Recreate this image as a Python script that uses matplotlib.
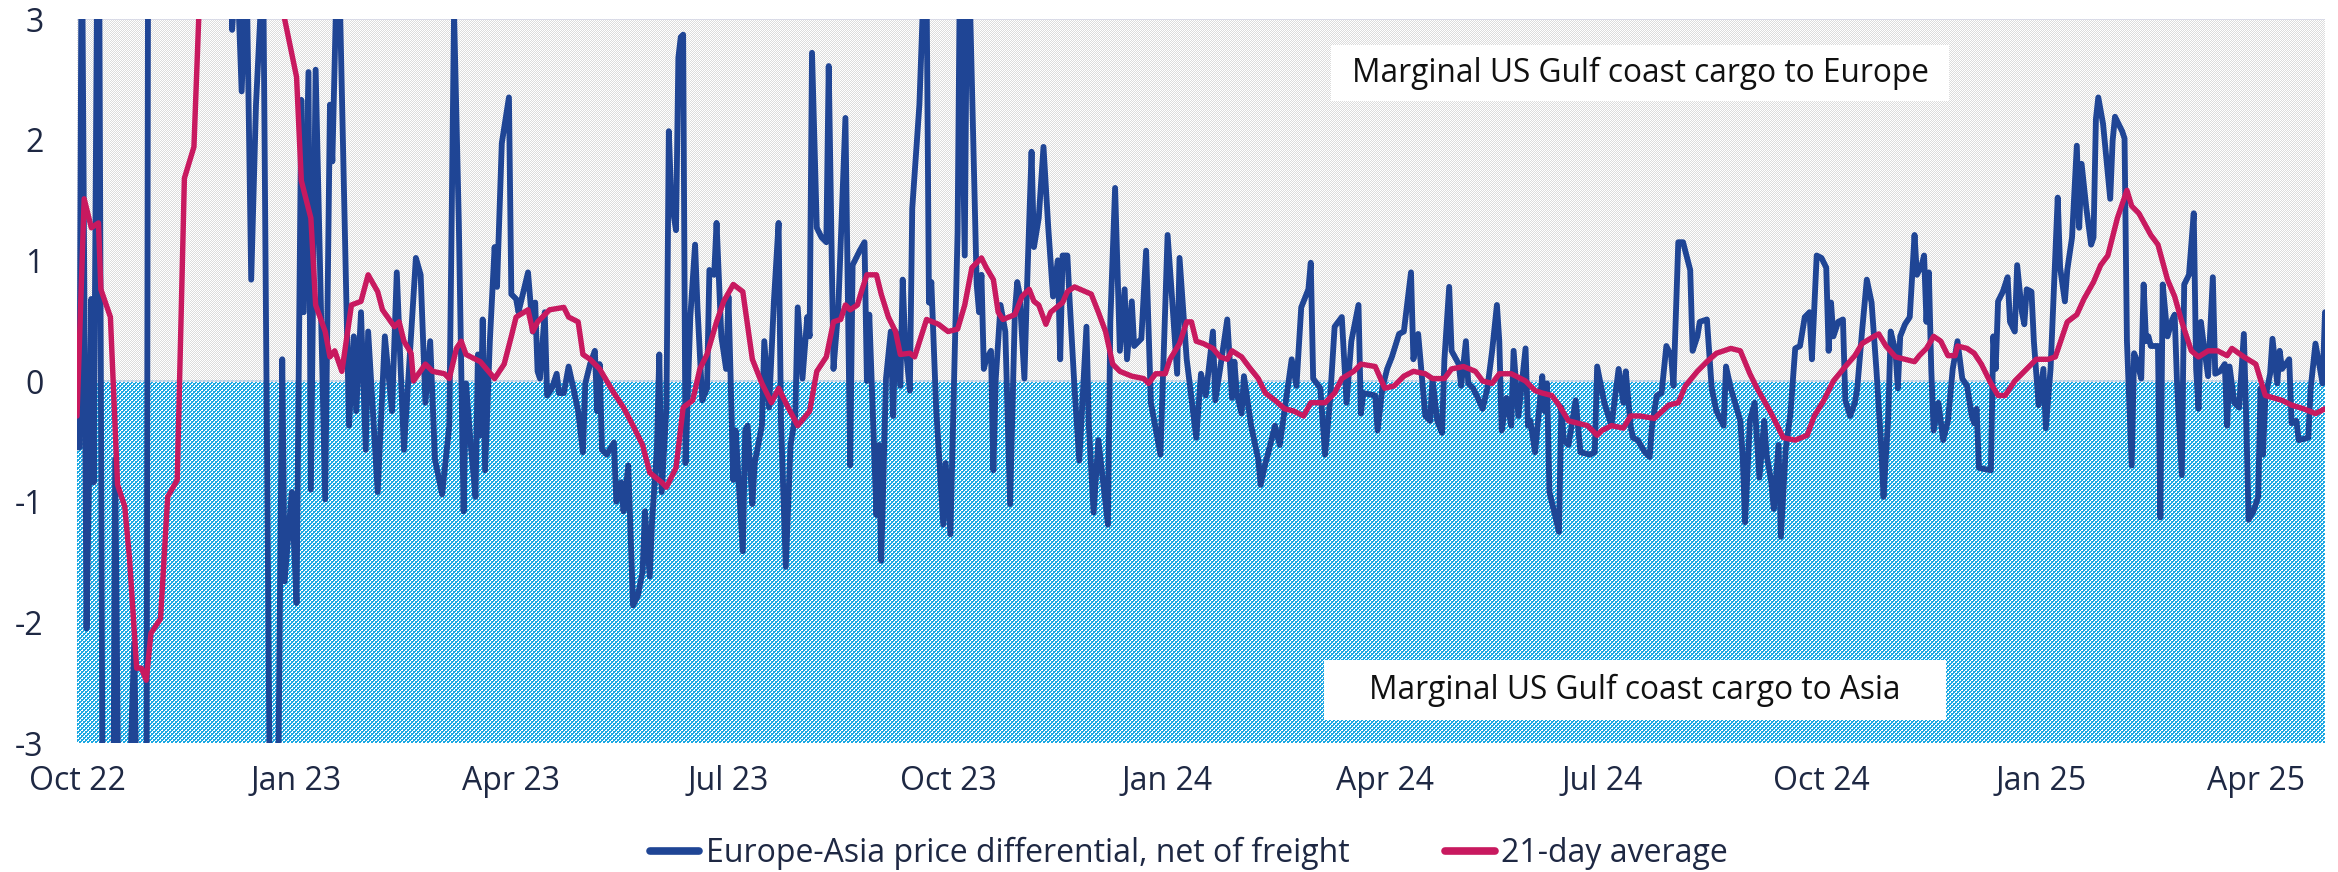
import numpy as np
import pandas as pd
import matplotlib
matplotlib.use("Agg")
import matplotlib.pyplot as plt
import matplotlib.dates as mdates
from matplotlib.colors import to_rgb
from matplotlib.patches import Rectangle

plt.rcParams['font.family'] = ['Open Sans', 'DejaVu Sans']

# ---------------- data ----------------
start_date = "2022-10-01"
end_day = 942

# Europe-Asia price differential, net of freight (day offset from start_date, value)
diff_day = [
    0, 1, 2, 4, 5, 6, 7, 9, 11, 15,
    16, 18, 21, 24, 26, 29, 30, 35, 42, 50,
    58, 64, 65, 67, 69, 71, 73, 75, 78, 81,
    84, 86, 87, 90, 92, 94, 95, 97, 98, 100,
    104, 106, 107, 109, 110, 114, 116, 117, 119, 121,
    122, 126, 129, 132, 134, 137, 142, 144, 146, 148,
    150, 153, 156, 158, 160, 162, 163, 165, 167, 168,
    169, 170, 171, 173, 175, 176, 178, 181, 182, 184,
    185, 189, 191, 192, 193, 194, 196, 197, 199, 201,
    202, 204, 206, 208, 210, 212, 213, 215, 217, 218,
    219, 220, 222, 225, 226, 228, 229, 231, 233, 235,
    237, 238, 240, 241, 243, 244, 245, 247, 248, 249,
    251, 252, 253, 254, 255, 257, 259, 260, 262, 264,
    265, 267, 268, 270, 272, 273, 275, 276, 279, 280,
    281, 283, 284, 287, 288, 290, 292, 294, 295, 297,
    299, 301, 302, 304, 306, 307, 308, 310, 312, 314,
    315, 317, 319, 322, 324, 325, 328, 330, 331, 332,
    335, 336, 337, 339, 341, 342, 343, 345, 346, 347,
    349, 350, 353, 355, 356, 357, 358, 360, 363, 364,
    366, 369, 370, 372, 373, 374, 377, 378, 379, 380,
    381, 383, 384, 385, 387, 389, 391, 393, 394, 395,
    397, 398, 400, 401, 403, 405, 407, 409, 411, 412,
    413, 415, 416, 418, 420, 423, 424, 426, 428, 432,
    433, 435, 437, 439, 440, 442, 443, 446, 448, 450,
    454, 457, 459, 461, 462, 465, 466, 469, 471, 473,
    476, 477, 479, 482, 484, 485, 486, 488, 489, 492,
    495, 496, 498, 499, 502, 504, 507, 509, 511, 513,
    516, 517, 518, 521, 523, 525, 527, 530, 532, 534,
    537, 538, 539, 544, 545, 547, 549, 551, 554, 556,
    559, 560, 562, 565, 567, 568, 570, 572, 573, 575,
    576, 579, 580, 582, 583, 585, 587, 589, 591, 593,
    595, 596, 597, 599, 601, 602, 604, 607, 608, 609,
    611, 614, 615, 616, 617, 621, 622, 623, 625, 628,
    630, 634, 636, 637, 640, 643, 646, 648, 649, 651,
    652, 654, 657, 659, 660, 662, 664, 666, 668, 669,
    671, 673, 676, 677, 679, 680, 683, 685, 687, 690,
    691, 693, 697, 698, 699, 701, 703, 705, 707, 708,
    710, 711, 713, 714, 716, 718, 720, 722, 724, 726,
    727, 729, 731, 733, 734, 735, 736, 738, 740, 741,
    743, 745, 746, 748, 750, 752, 754, 756, 757, 759,
    760, 762, 763, 764, 766, 768, 770, 771, 773, 774,
    775, 776, 777, 778, 780, 782, 784, 786, 788, 790,
    792, 794, 795, 796, 797, 802, 803, 804, 805, 807,
    809, 810, 812, 813, 815, 816, 817, 819, 820, 822,
    824, 825, 827, 830, 831, 833, 834, 836, 838, 839,
    840, 842, 844, 845, 846, 847, 849, 852, 853, 854,
    857, 858, 859, 861, 862, 863, 865, 866, 867, 868,
    869, 872, 873, 874, 876, 878, 879, 880, 882, 883,
    885, 887, 888, 889, 890, 891, 893, 895, 896, 898,
    900, 901, 902, 904, 906, 908, 909, 910, 912, 914,
    915, 916, 917, 919, 920, 922, 923, 924, 927, 928,
    930, 931, 935, 936, 938, 939, 941, 942,
]
diff_value = [
    -0.55, -0.55, 4.0, -2.05, -0.84, 0.68, -0.84, 5.0, -5.0, -4.5,
    -0.65, -5.0, -4.0, -2.17, -5.0, -5.0, 6.0, 8.0, 10.0, 7.0,
    9.0, 5.0, 2.91, 3.5, 2.4, 3.5, 0.84, 2.29, 3.5, -4.0,
    -4.0, 0.18, -1.66, -0.92, -1.84, 2.33, 0.57, 2.56, -0.9, 2.58,
    -0.98, 2.29, 1.82, 3.5, 3.3, -0.37, 0.37, -0.25, 0.57, -0.57,
    0.41, -0.92, 0.37, -0.25, 0.9, -0.57, 1.02, 0.88, -0.18, 0.33,
    -0.65, -0.94, -0.37, 3.05, 1.31, -1.08, -0.02, -0.53, -0.96, 0.22,
    -0.45, 0.51, -0.74, 0.33, 1.11, 0.78, 1.97, 2.35, 0.72, 0.68,
    0.57, 0.9, 0.41, 0.65, 0.08, 0.02, 0.57, -0.12, -0.06, 0.06,
    -0.1, -0.1, 0.12, -0.06, -0.25, -0.59, -0.02, 0.14, 0.25, -0.25,
    0.14, -0.57, -0.61, -0.51, -1.0, -0.84, -1.08, -0.7, -1.86, -1.78,
    -1.58, -1.08, -1.62, -1.15, -0.57, 0.22, -0.92, -0.22, 2.07, 1.51,
    1.25, 2.68, 2.85, 2.87, -0.68, 0.53, 1.13, 0.61, -0.16, -0.06,
    0.92, 0.88, 1.31, 0.37, 0.1, 0.7, -0.82, -0.41, -1.41, -0.41,
    -0.37, -1.02, -0.68, -0.37, 0.33, -0.22, 0.65, 1.31, -0.33, -1.54,
    -0.53, -0.29, 0.61, 0.02, 0.53, 0.37, 2.72, 1.27, 1.19, 1.15,
    2.61, 0.1, 0.6, 2.18, -0.7, 0.96, 1.08, 1.15, 0.0, 0.55,
    -1.11, -0.53, -1.49, 0.02, 0.41, -0.29, 0.41, -0.04, 0.84, 0.33,
    -0.08, 1.43, 2.29, 3.4, 3.3, 0.65, 0.82, -0.22, -1.19, -0.68,
    -1.27, 1.23, 3.5, 1.04, 3.5, 3.3, 0.8, 0.57, 0.88, 0.1,
    0.18, 0.25, -0.74, 0.02, 0.63, 0.41, -1.02, 0.57, 0.82, 0.72,
    0.02, 0.72, 1.9, 1.11, 1.35, 1.94, 1.27, 0.7, 1.0, 0.18,
    1.04, 1.04, 0.65, -0.06, -0.66, 0.45, -0.37, -1.09, -0.49, -1.19,
    0.49, 1.6, 0.25, 0.76, 0.18, 0.66, 0.29, 0.35, 1.08, -0.18,
    -0.61, 1.21, 0.65, 0.06, 1.02, 0.18, 0.02, -0.47, 0.06, -0.12,
    0.41, -0.16, 0.1, 0.51, -0.14, 0.16, -0.1, -0.27, 0.04, -0.37,
    -0.65, -0.86, -0.68, -0.61, -0.37, -0.53, -0.1, 0.18, -0.04, 0.61,
    0.76, 0.98, 0.02, -0.06, -0.61, -0.18, 0.45, 0.53, -0.18, 0.33,
    0.63, -0.27, -0.1, -0.12, -0.41, -0.06, 0.1, 0.2, 0.39, 0.41,
    0.9, 0.18, 0.39, -0.29, -0.33, 0.02, -0.33, -0.43, 0.18, 0.78,
    0.25, 0.14, -0.04, 0.33, -0.02, -0.06, -0.14, -0.23, -0.06, 0.25,
    0.63, 0.33, -0.41, -0.14, -0.37, 0.25, -0.29, 0.27, -0.37, -0.33,
    -0.59, 0.04, -0.25, -0.02, -0.92, -1.25, -0.22, -0.49, -0.53, -0.16,
    -0.59, -0.61, -0.59, 0.12, -0.18, -0.37, 0.1, -0.18, 0.08, -0.37,
    -0.47, -0.49, -0.59, -0.63, -0.37, -0.12, -0.1, 0.29, 0.21, -0.04,
    1.15, 1.15, 0.92, 0.25, 0.37, 0.49, 0.51, -0.06, -0.25, -0.37,
    0.12, -0.06, -0.33, -0.63, -1.17, -0.33, -0.18, -0.8, -0.33, -0.61,
    -0.84, -1.06, -0.53, -1.29, -0.57, -0.27, 0.27, 0.29, 0.53, 0.57,
    0.18, 1.04, 1.02, 0.94, 0.25, 0.65, 0.37, 0.49, 0.51, -0.16,
    -0.29, -0.18, -0.06, 0.41, 0.84, 0.65, 0.1, -0.53, -0.96, -0.29,
    0.41, 0.25, -0.06, 0.37, 0.47, 0.53, 1.21, 0.88, 0.96, 1.04,
    0.49, 0.9, 0.1, -0.41, -0.18, -0.49, -0.33, 0.1, 0.33, 0.02,
    -0.04, -0.29, -0.35, -0.23, -0.72, -0.74, 0.37, 0.1, 0.66, 0.74,
    0.86, 0.49, 0.41, 0.96, 0.57, 0.47, 0.76, 0.74, 0.33, -0.2,
    0.1, -0.39, 0.1, 1.52, 0.94, 0.66, 0.92, 1.19, 1.95, 1.27,
    1.8, 1.43, 1.13, 1.19, 2.17, 2.35, 2.13, 1.51, 1.99, 2.19,
    2.07, 2.01, 0.33, -0.7, 0.23, 0.18, 0.02, 0.8, 0.33, 0.37,
    0.29, 0.29, -1.13, 0.8, 0.37, 0.51, 0.55, -0.02, -0.78, 0.8,
    0.88, 1.39, 0.1, -0.23, 0.49, 0.33, 0.04, 0.86, 0.06, 0.08,
    0.14, -0.37, 0.12, -0.18, -0.22, 0.39, -0.33, -1.15, -1.08, -0.96,
    -0.06, -0.61, -0.14, 0.06, 0.35, -0.02, 0.25, 0.1, 0.18, -0.35,
    -0.33, -0.49, -0.47, -0.06, 0.31, 0.2, -0.02, 0.57,
]

# 21-day average (day offset from start_date, value)
avg_day = [
    0, 3, 6, 9, 10, 14, 17, 20, 22, 25,
    27, 29, 31, 35, 38, 42, 45, 49, 51, 56,
    62, 70, 78, 84, 87, 92, 94, 98, 100, 104,
    106, 108, 111, 115, 119, 122, 126, 128, 133, 135,
    137, 140, 141, 146, 149, 154, 156, 159, 161, 163,
    169, 175, 179, 182, 184, 189, 191, 193, 198, 204,
    206, 210, 212, 215, 219, 225, 229, 233, 237, 240,
    245, 247, 251, 254, 258, 261, 264, 268, 271, 275,
    279, 283, 287, 291, 294, 298, 302, 307, 310, 314,
    317, 320, 322, 324, 327, 329, 331, 335, 337, 340,
    343, 345, 349, 351, 356, 361, 365, 369, 372, 375,
    379, 381, 384, 386, 388, 393, 396, 399, 401, 403,
    406, 408, 413, 415, 418, 425, 428, 431, 434, 437,
    442, 447, 449, 452, 456, 458, 462, 465, 467, 469,
    472, 476, 479, 482, 484, 488, 491, 495, 498, 502,
    506, 510, 514, 517, 523, 527, 530, 535, 538, 544,
    548, 552, 556, 560, 565, 568, 573, 576, 581, 586,
    589, 593, 596, 601, 607, 611, 614, 618, 621, 625,
    629, 633, 637, 639, 643, 648, 651, 655, 661, 667,
    671, 674, 679, 683, 687, 693, 697, 701, 704, 710,
    715, 720, 725, 728, 732, 736, 741, 745, 748, 753,
    755, 758, 762, 766, 770, 772, 775, 778, 781, 784,
    787, 788, 792, 795, 798, 802, 805, 808, 812, 817,
    821, 826, 829, 834, 838, 841, 845, 848, 851, 855,
    859, 861, 864, 869, 872, 876, 879, 882, 886, 889,
    893, 897, 901, 903, 908, 913, 917, 924, 928, 933,
    938, 942,
]
avg_value = [
    -0.29, 1.51, 1.27, 1.31, 0.76, 0.53, -0.86, -1.04, -1.47, -2.38,
    -2.38, -2.48, -2.09, -1.97, -0.96, -0.82, 1.68, 1.94, 3.0, 4.5,
    5.5, 5.8, 5.0, 4.0, 3.0, 2.52, 1.66, 1.35, 0.63, 0.41,
    0.2, 0.25, 0.08, 0.63, 0.66, 0.88, 0.74, 0.59, 0.45, 0.49,
    0.33, 0.23, 0.0, 0.14, 0.08, 0.06, 0.02, 0.27, 0.33, 0.22,
    0.16, 0.02, 0.14, 0.37, 0.53, 0.59, 0.41, 0.49, 0.59, 0.61,
    0.53, 0.49, 0.22, 0.18, 0.1, -0.1, -0.22, -0.37, -0.53, -0.76,
    -0.84, -0.88, -0.72, -0.22, -0.16, 0.1, 0.22, 0.49, 0.66, 0.8,
    0.74, 0.18, -0.02, -0.18, -0.06, -0.22, -0.37, -0.25, 0.08, 0.2,
    0.49, 0.51, 0.63, 0.59, 0.63, 0.76, 0.88, 0.88, 0.72, 0.53,
    0.41, 0.22, 0.23, 0.2, 0.51, 0.47, 0.41, 0.43, 0.63, 0.94,
    1.02, 0.94, 0.84, 0.57, 0.51, 0.55, 0.7, 0.76, 0.66, 0.63,
    0.47, 0.57, 0.65, 0.74, 0.78, 0.72, 0.57, 0.41, 0.14, 0.08,
    0.04, 0.02, -0.02, 0.06, 0.06, 0.18, 0.31, 0.49, 0.49, 0.33,
    0.31, 0.27, 0.2, 0.18, 0.25, 0.2, 0.12, 0.02, -0.1, -0.16,
    -0.23, -0.25, -0.29, -0.18, -0.18, -0.1, 0.02, 0.08, 0.14, 0.12,
    -0.06, -0.04, 0.04, 0.08, 0.06, 0.02, 0.02, 0.1, 0.12, 0.08,
    0.0, -0.02, 0.06, 0.06, 0.0, -0.08, -0.1, -0.12, -0.2, -0.33,
    -0.35, -0.37, -0.45, -0.41, -0.37, -0.39, -0.29, -0.29, -0.31, -0.2,
    -0.18, -0.04, 0.08, 0.16, 0.23, 0.27, 0.25, 0.06, -0.06, -0.27,
    -0.47, -0.49, -0.45, -0.29, -0.16, 0.0, 0.12, 0.21, 0.31, 0.37,
    0.39, 0.29, 0.2, 0.18, 0.16, 0.21, 0.27, 0.37, 0.33, 0.21,
    0.21, 0.29, 0.27, 0.23, 0.14, -0.02, -0.12, -0.12, 0.0, 0.1,
    0.18, 0.18, 0.2, 0.49, 0.55, 0.68, 0.82, 0.96, 1.04, 1.35,
    1.58, 1.45, 1.39, 1.21, 1.13, 0.84, 0.7, 0.49, 0.25, 0.2,
    0.25, 0.25, 0.21, 0.27, 0.2, 0.14, -0.12, -0.16, -0.2, -0.23,
    -0.27, -0.23,
]

tick_dates = ["2022-10-01", "2023-01-01", "2023-04-01", "2023-07-01",
              "2023-10-01", "2024-01-01", "2024-04-01", "2024-07-01",
              "2024-10-01", "2025-01-01", "2025-04-01"]
tick_labels = ["Oct 22", "Jan 23", "Apr 23", "Jul 23", "Oct 23", "Jan 24",
               "Apr 24", "Jul 24", "Oct 24", "Jan 25", "Apr 25"]
y_ticks = [-3, -2, -1, 0, 1, 2, 3]
series_names = ["Europe-Asia price differential, net of freight", "21-day average"]
label_europe = "Marginal US Gulf coast cargo to Europe"
label_asia = "Marginal US Gulf coast cargo to Asia"

assert len(diff_day) == len(diff_value)
assert len(avg_day) == len(avg_value)

# ---------------- figure ----------------
W, H, DPI = 2338, 872, 100
fig = plt.figure(figsize=(W / DPI, H / DPI), dpi=DPI)
ax_l, ax_r, ax_t, ax_b = 77, 2325, 19, 743
ax = fig.add_axes([ax_l / W, 1 - ax_b / H, (ax_r - ax_l) / W, (ax_b - ax_t) / H])

t0 = pd.Timestamp(start_date)
x_diff = t0 + pd.to_timedelta(diff_day, unit="D")
x_avg = t0 + pd.to_timedelta(avg_day, unit="D")
x0 = mdates.date2num(t0)
x1 = mdates.date2num(t0 + pd.Timedelta(days=end_day))

# patterned background: grey dots above zero, cyan checker below zero
pw, ph = ax_r - ax_l, ax_b - ax_t
ii, jj = np.mgrid[0:ph, 0:pw]
img = np.ones((ph, pw, 3))
upper = ii < ph // 2
img[((ii + jj) % 2 == 0) & upper] = to_rgb("#dcdcdc")
cyan_mask = (((ii // 2) + (jj // 2)) % 2 == 0) | ((ii % 2 == 0) & (jj % 2 == 0))
img[cyan_mask & ~upper] = to_rgb("#1ea9e3")
ax.imshow(img, extent=[x0, x1, -3, 3], aspect="auto",
          interpolation="nearest", zorder=0)

ax.axhline(3, color="#d6d8e6", lw=1.2, zorder=1)
ax.axhline(0, color="#d6d8e6", lw=1.2, zorder=1)

# label boxes
for (bx0, bx1, by0, by1, txt) in [
    ((1331 - ax_l) / pw, (1949 - ax_l) / pw, (ax_b - 101) / ph, (ax_b - 45) / ph, label_europe),
    ((1324 - ax_l) / pw, (1946 - ax_l) / pw, (ax_b - 720) / ph, (ax_b - 660) / ph, label_asia),
]:
    ax.add_patch(Rectangle((bx0, by0), bx1 - bx0, by1 - by0, transform=ax.transAxes,
                           facecolor="white", edgecolor="none", zorder=2))
    ax.text((bx0 + bx1) / 2, (by0 + by1) / 2, txt, transform=ax.transAxes,
            ha="center", va="center", fontsize=22.8, color="#111111", zorder=2.5)

ax.plot(x_diff, diff_value, color="#1f4595", lw=4.2, solid_joinstyle="round",
        solid_capstyle="round", zorder=3, label=series_names[0])
ax.plot(x_avg, avg_value, color="#c8195f", lw=3.9, solid_joinstyle="round",
        solid_capstyle="round", zorder=4, label=series_names[1])

ax.set_xlim(x0, x1)
ax.set_ylim(-3, 3)
ax.set_xticks([mdates.date2num(pd.Timestamp(d)) for d in tick_dates])
ax.set_xticklabels(tick_labels)
ax.set_yticks(y_ticks)
ax.set_yticklabels([str(v) for v in y_ticks])
ax.tick_params(axis="both", length=0, labelsize=23, labelcolor="#1e2843")
ax.tick_params(axis="y", pad=24)
ax.tick_params(axis="x", pad=16)
for s in ax.spines.values():
    s.set_visible(False)

handles, labels = ax.get_legend_handles_labels()
leg = fig.legend(handles, labels, loc="center", bbox_to_anchor=(0.5085, 0.021),
                 ncol=2, frameon=False, fontsize=23, handlelength=1.55,
                 handletextpad=0.2, columnspacing=3.0, labelcolor="#1e2843")
for lh in leg.get_lines():
    lh.set_linewidth(5.5)

fig.savefig("out.png", dpi=DPI)
